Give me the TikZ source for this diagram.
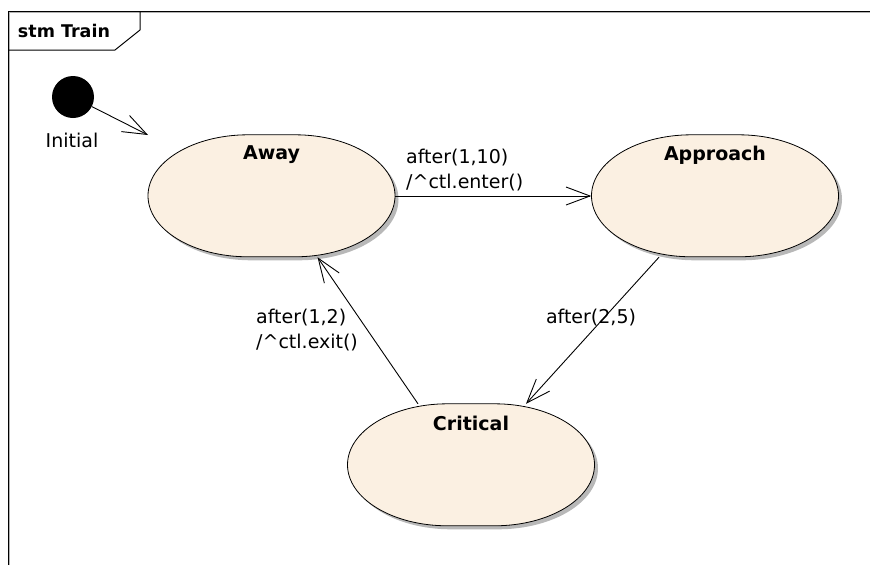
\documentclass[tikz,border=0pt]{standalone}
\usepackage{fontspec}
\setmainfont{DejaVu Sans}
\usepackage{tikz}
\usetikzlibrary{arrows.meta,calc,shadows}
\usepackage{xcolor}
\definecolor{statefill}{RGB}{251,240,226}

\begin{document}
\begin{tikzpicture}[x=1pt,y=-1pt,
    state/.style={rectangle, minimum width=247pt, minimum height=122pt, inner sep=0pt},
    stateshape/.style={draw=black, line width=0.8pt, fill=statefill,
      drop shadow={shadow xshift=3.5pt, shadow yshift=-3.5pt, fill=black!28, opacity=1}},
    trans/.style={line width=0.9pt, -{Straight Barb[length=24pt,width=18pt]}},
    lbl/.style={font=\fontsize{19}{25}\selectfont, inner sep=0pt},
    title/.style={font=\fontsize{19}{23}\selectfont\bfseries, inner sep=0pt}]

\useasboundingbox (0,0) rectangle (870,565);

% frame with tab
\draw[black!30, line width=1pt] (9.5,565) -- (9.5,12.5) -- (870,12.5);
\draw[line width=1pt] (8,565) -- (8,11) -- (870,11);
\draw[line width=1pt] (8,50) -- (115,50) -- (140,30) -- (140,11);
\node[font=\fontsize{17.5}{20}\selectfont\bfseries] (frame-name) at (64,31) {stm Train};

% initial
\node[circle, fill=black, minimum size=42pt, inner sep=0pt] (init) at (73,97) {};
\node[lbl] (init-name) at (72,140) {Initial};
\coordinate (init-end) at (148,135);
\draw[trans] (init) -- (init-end);

% states
\node[state] (away) at (271.5,196) {};
\node[state] (approach) at (715,196) {};
\node[state] (critical) at (471,465) {};
\foreach \n/\t in {away/Away, approach/Approach, critical/Critical} {
  \draw[stateshape] ($(\n.north)+(-23.5,0)$) -- ++(47,0)
    arc[start angle=90, end angle=-90, x radius=100pt, y radius=61pt] -- ++(-47,0)
    arc[start angle=270, end angle=90, x radius=100pt, y radius=61pt] -- cycle;
  \node[title] (\n-name) at ($(\n.north)+(0,20)$) {\t};
}

% transitions
\draw[trans] (away) -- (approach);
\draw[trans] ($(approach.south)+(-56,0)$) -- ($(critical.north)+(55,0)$);
\draw[trans] ($(critical.north)+(-53,0)$) -- ($(away.south)+(46,0)$);

\node[lbl, anchor=west, align=left] (enter-lbl) at (406,170) {after(1,10)\\/\textasciicircum{}ctl.enter()};
\node[lbl] (crit-lbl) at (591,318) {after(2,5)};
\node[lbl, anchor=west, align=left] (exit-lbl) at (256,330) {after(1,2)\\/\textasciicircum{}ctl.exit()};
\end{tikzpicture}
\end{document}
